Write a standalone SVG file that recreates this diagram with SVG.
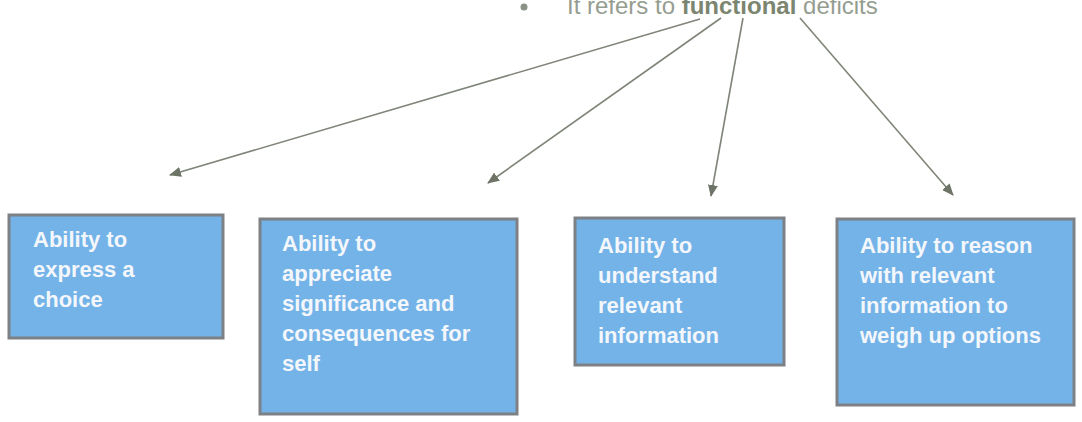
<svg xmlns="http://www.w3.org/2000/svg" width="1082" height="422" viewBox="0 0 1082 422">
  <defs>
    <marker id="arrowhead" viewBox="0 0 12 10" refX="11" refY="5" markerWidth="12" markerHeight="10" markerUnits="userSpaceOnUse" orient="auto">
      <path d="M0,0 L12,5 L0,10 Z" fill="#6e7466"/>
    </marker>
    <style>
      .heading { font-family: "Liberation Sans", Arial, sans-serif; font-size: 24px; fill: #959d90; }
      .heading .em { font-weight: bold; fill: #7b8570; }
      .box { fill: #73b3e8; stroke: #7d8085; stroke-width: 3; }
      .label { font-family: "Liberation Sans", Arial, sans-serif; font-size: 22px; font-weight: bold; fill: #f3f7fb; }
      .connector { stroke: #7f8579; stroke-width: 1.6; fill: none; marker-end: url(#arrowhead); }
    </style>
  </defs>

  <rect width="1082" height="422" fill="#ffffff"/>

  <!-- bullet heading, its top runs past the upper edge -->
  <g id="heading">
    <circle cx="524" cy="7" r="3.5" fill="#8a9285"/>
    <text class="heading" x="567" y="14">It refers to <tspan class="em">functional</tspan> deficits</text>
  </g>

  <!-- connectors from the heading to the four abilities -->
  <g id="connectors">
    <line class="connector" x1="700" y1="19" x2="170" y2="175"/>
    <line class="connector" x1="721" y1="18" x2="488" y2="183"/>
    <line class="connector" x1="743" y1="18" x2="711" y2="196"/>
    <line class="connector" x1="800" y1="18" x2="953" y2="195"/>
  </g>

  <g id="node-choice">
    <rect class="box" x="9" y="215" width="214" height="123"/>
    <text class="label" x="33" y="247">
      <tspan x="33">Ability to</tspan>
      <tspan x="33" dy="30">express a</tspan>
      <tspan x="33" dy="30">choice</tspan>
    </text>
  </g>

  <g id="node-appreciate">
    <rect class="box" x="260" y="219" width="257" height="195"/>
    <text class="label" x="282" y="251">
      <tspan x="282">Ability to</tspan>
      <tspan x="282" dy="30">appreciate</tspan>
      <tspan x="282" dy="30">significance and</tspan>
      <tspan x="282" dy="30">consequences for</tspan>
      <tspan x="282" dy="30">self</tspan>
    </text>
  </g>

  <g id="node-understand">
    <rect class="box" x="575" y="218" width="209" height="147"/>
    <text class="label" x="598" y="253">
      <tspan x="598">Ability to</tspan>
      <tspan x="598" dy="30">understand</tspan>
      <tspan x="598" dy="30">relevant</tspan>
      <tspan x="598" dy="30">information</tspan>
    </text>
  </g>

  <g id="node-reason">
    <rect class="box" x="837" y="219" width="237" height="186"/>
    <text class="label" x="860" y="253">
      <tspan x="860">Ability to reason</tspan>
      <tspan x="860" dy="30">with relevant</tspan>
      <tspan x="860" dy="30">information to</tspan>
      <tspan x="860" dy="30">weigh up options</tspan>
    </text>
  </g>
</svg>
